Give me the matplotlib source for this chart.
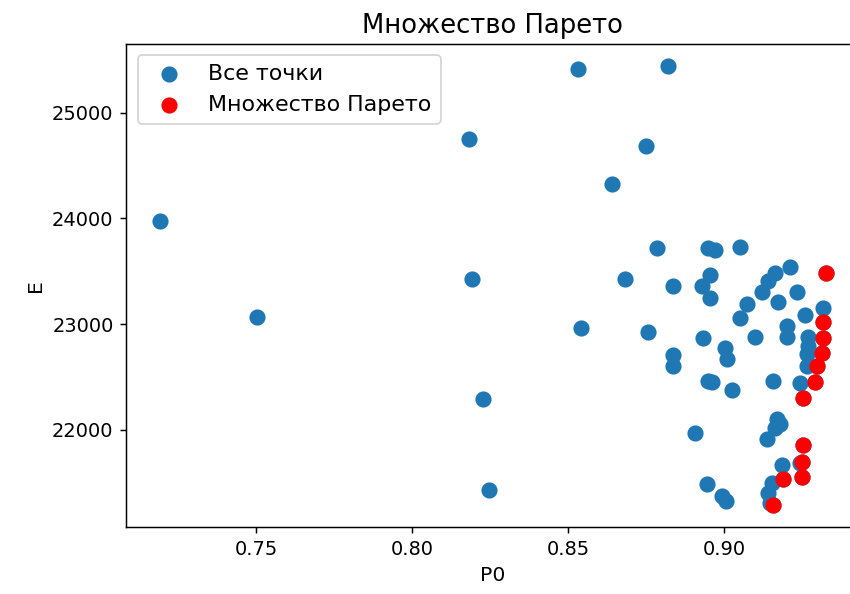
import matplotlib.pyplot as plt
import numpy as np

# all points (P0, E)
p0_all = [0.7192, 0.7503, 0.8183, 0.8192, 0.8228, 0.8247, 0.8532, 0.8542,
          0.8821, 0.8750, 0.8641, 0.8683, 0.8785, 0.8756, 0.8837, 0.8837,
          0.8837, 0.8907, 0.8949, 0.8971, 0.9051, 0.8955, 0.8929, 0.8955,
          0.8933, 0.9003, 0.9010, 0.8949, 0.8962, 0.9026, 0.8946, 0.8994,
          0.9006, 0.9074, 0.9051, 0.9099, 0.9122, 0.9141, 0.9163, 0.9212,
          0.9173, 0.9234, 0.9260, 0.9317, 0.9202, 0.9202, 0.9269, 0.9269,
          0.9266, 0.9266, 0.9244, 0.9157, 0.9170, 0.9179, 0.9163, 0.9138,
          0.9186, 0.9244, 0.9154, 0.9141, 0.9147]
e_all = [23972, 23071, 24749, 23422, 22294, 21431, 25412, 22967,
         25441, 24682, 24322, 23422, 23716, 22929, 23365, 22711,
         22607, 21971, 23716, 23697, 23725, 23460, 23365, 23251,
         22872, 22777, 22673, 22464, 22455, 22379, 21488, 21374,
         21327, 23194, 23062, 22881, 23299, 23412, 23479, 23536,
         23213, 23299, 23090, 23156, 22986, 22881, 22881, 22796,
         22720, 22607, 22446, 22464, 22104, 22057, 22019, 21915,
         21668, 21687, 21498, 21403, 21308]

# Pareto set
p0_pareto = [0.9327, 0.9317, 0.9317, 0.9314, 0.9298, 0.9292, 0.9253,
             0.9253, 0.9250, 0.9250, 0.9189, 0.9157]
e_pareto = [23479, 23024, 22872, 22730, 22607, 22455, 22303,
            21858, 21697, 21555, 21536, 21289]

fig = plt.figure(figsize=(850 / 133, 594 / 133), dpi=133)
ax = fig.add_axes([0.1488, 0.1128, 0.862, 0.8131])

ax.scatter(p0_all + p0_pareto, e_all + e_pareto, s=60, label='Все точки')
ax.scatter(p0_pareto, e_pareto, s=60, color='red', label='Множество Парето')

ax.set_title('Множество Парето', fontsize=14)
ax.set_xlabel('P0', fontsize=11)
ax.set_ylabel('E', fontsize=11)
ax.tick_params(labelsize=10.5)
ax.legend(loc='upper left', fontsize=12)

fig.savefig('out.png', dpi=133)
